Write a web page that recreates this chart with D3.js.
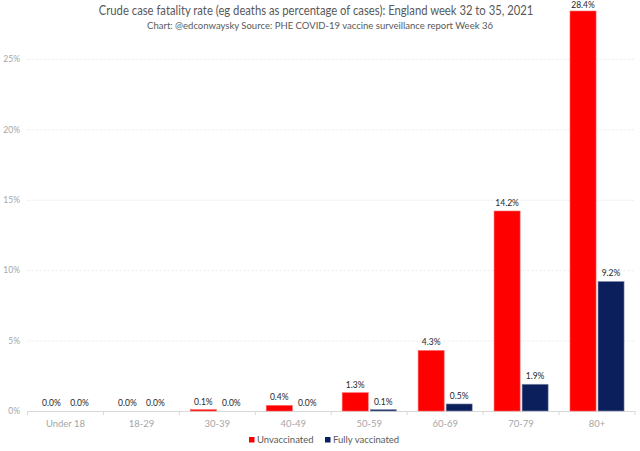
<!DOCTYPE html>
<html>
<head>
<meta charset="utf-8">
<script src="https://cdn.jsdelivr.net/npm/d3@7"></script>
<style>
  body { margin: 0; background: #fff; }
  svg text { font-family: Lato, "Open Sans", sans-serif; }
</style>
</head>
<body>
<div id="chart"></div>
<script>
'use strict';

// data
var ageGroups = ["Under 18", "18-29", "30-39", "40-49", "50-59", "60-69", "70-79", "80+"];
var seriesNames = ["Unvaccinated", "Fully vaccinated"];
var unvaccinated = [0.0, 0.0, 0.1, 0.4, 1.3, 4.3, 14.2, 28.4];
var fullyVaccinated = [0.0, 0.0, 0.0, 0.0, 0.1, 0.5, 1.9, 9.2];
var yTicks = [0, 5, 10, 15, 20, 25];

var width = 640;
var height = 451;
var colors = ["#ff0000", "#0b1f5c"];
var strokes = ["#ff6a6a", "#8a94b0"];

var svg = d3.select("#chart").append("svg")
    .attr("width", width)
    .attr("height", height);

// title: the original font (Gill Sans) is narrow, so squeeze it horizontally
var titleG = svg.append("g")
    .attr("transform", "translate(316,15)");
var title = titleG.append("text")
    .attr("x", 0)
    .attr("y", 0)
    .attr("text-anchor", "middle")
    .attr("fill", "#595959")
    .attr("font-size", "13px")
    .text("Crude case fatality rate (eg deaths as percentage of cases): England week 32 to 35, 2021");
var titleW = title.node().getComputedTextLength();
titleG.attr("transform", "translate(316,15) scale(" + (435 / titleW) + ",1)");

svg.append("text")
    .attr("x", 320)
    .attr("y", 29)
    .attr("text-anchor", "middle")
    .attr("fill", "#595959")
    .attr("font-size", "9.5px")
    .text("Chart: @edconwaysky Source: PHE COVID-19 vaccine surveillance report Week 36");

var x0 = d3.scaleBand()
    .domain(ageGroups)
    .range([27.5, 635]);

var x1 = d3.scaleBand()
    .domain(seriesNames)
    .range([0, x0.bandwidth()])
    .paddingInner(0.07)
    .paddingOuter(0.39);

var y = d3.scaleLinear()
    .domain([0, 28.4])
    .range([411, 11]);

// dotted gridlines
svg.append("g")
    .selectAll("line")
    .data(yTicks.filter(d => d > 0))
    .enter().append("line")
    .attr("x1", 27.5)
    .attr("x2", 635)
    .attr("y1", d => y(d) + 0.5)
    .attr("y2", d => y(d) + 0.5)
    .attr("stroke", "#e3e3e3")
    .attr("stroke-width", 0.8)
    .attr("stroke-dasharray", "2,2");

// y axis labels
var yAxis = d3.axisLeft(y)
    .tickValues(yTicks)
    .tickSize(0)
    .tickPadding(0)
    .tickFormat(d => d + "%");

var yg = svg.append("g")
    .attr("transform", "translate(20,0)")
    .call(yAxis);
yg.select(".domain").remove();
yg.selectAll("text")
    .attr("fill", "#a6a6a6")
    .attr("font-size", "8.5px");

// x axis
var xAxis = d3.axisBottom(x0)
    .tickSize(0)
    .tickPadding(9);

var xg = svg.append("g")
    .attr("transform", "translate(0,411)")
    .call(xAxis);
xg.select(".domain")
    .attr("stroke", "#d9d9d9");
xg.selectAll("text")
    .attr("fill", "#a6a6a6")
    .attr("font-size", "9.5px");

// category separators
xg.selectAll(".sep")
    .data(ageGroups.concat(["end"]))
    .enter().append("line")
    .attr("class", "sep")
    .attr("x1", (d, i) => i < ageGroups.length ? x0(d) : x0.range()[1])
    .attr("x2", (d, i) => i < ageGroups.length ? x0(d) : x0.range()[1])
    .attr("y1", 0)
    .attr("y2", 4)
    .attr("stroke", "#d9d9d9");

// bars
var rows = ageGroups.map((g, i) => ({
    group: g,
    values: [
        {series: seriesNames[0], value: unvaccinated[i], k: 0},
        {series: seriesNames[1], value: fullyVaccinated[i], k: 1}
    ]
}));

var groups = svg.append("g")
    .selectAll("g")
    .data(rows)
    .enter().append("g")
    .attr("transform", d => "translate(" + x0(d.group) + ",0)");

groups.selectAll("rect")
    .data(d => d.values)
    .enter().append("rect")
    .attr("x", d => x1(d.series))
    .attr("width", x1.bandwidth())
    .attr("y", d => y(d.value))
    .attr("height", d => y(0) - y(d.value))
    .attr("fill", d => colors[d.k])
    .attr("stroke", d => d.value > 0 ? strokes[d.k] : "none")
    .attr("stroke-width", 0.6);

// value labels, kept inside the top of the picture for the tallest bar
groups.selectAll(".val")
    .data(d => d.values)
    .enter().append("text")
    .attr("class", "val")
    .attr("x", d => x1(d.series) + x1.bandwidth() / 2)
    .attr("y", d => Math.max(y(d.value) - 5, 8))
    .attr("text-anchor", "middle")
    .attr("fill", "#262626")
    .attr("font-size", "8.5px")
    .text(d => d.value.toFixed(1) + "%");

// legend
var legend = svg.append("g")
    .attr("transform", "translate(249,443)");

var legendX = [0, 76];
seriesNames.forEach((name, i) => {
    legend.append("rect")
        .attr("x", legendX[i])
        .attr("y", -6)
        .attr("width", 5.5)
        .attr("height", 5.5)
        .attr("fill", colors[i]);
    legend.append("text")
        .attr("x", legendX[i] + 8)
        .attr("y", 0)
        .attr("fill", "#595959")
        .attr("font-size", "9.5px")
        .text(name);
});
</script>
</body>
</html>
